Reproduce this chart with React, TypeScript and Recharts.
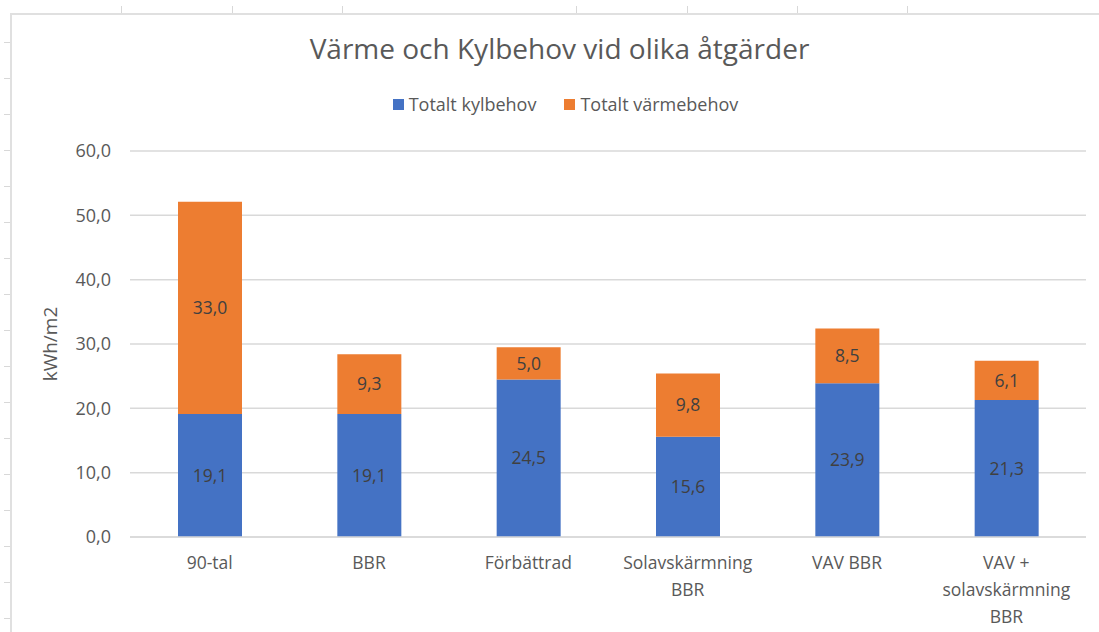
import React from 'react';
import { BarChart, Bar, XAxis, YAxis, CartesianGrid, LabelList } from 'recharts';

const categories = ['90-tal', 'BBR', 'Förbättrad', 'Solavskärmning\nBBR', 'VAV BBR', 'VAV +\nsolavskärmning\nBBR'];
const kylbehov = [19.1, 19.1, 24.5, 15.6, 23.9, 21.3];
const varmebehov = [33.0, 9.3, 5.0, 9.8, 8.5, 6.1];
const yTicks = [0, 10, 20, 30, 40, 50, 60];
const seriesNames = ['Totalt kylbehov', 'Totalt värmebehov'];
const colors = ['#4472C4', '#ED7D31'];

const data = categories.map((c, i) => ({ name: c, kyl: kylbehov[i], varme: varmebehov[i] }));

const FONT = "'Open Sans', 'Noto Sans', sans-serif";
const fmt = (v: any) => Number(v).toFixed(1).replace('.', ',');

const topTicks = [121, 232, 342, 576, 687, 797, 907];
const leftTicks = Array.from({ length: 17 }, (_, k) => 42 + 36 * k);

const CategoryTick = (props: any) => {
  const { x, y, payload } = props;
  const lines = String(payload.value).split('\n');
  return (
    <g transform={`translate(${x},${y})`}>
      <text textAnchor="middle" fill="#595959" fontSize={17.5} fontFamily={FONT}>
        {lines.map((l, i) => (
          <tspan key={i} x={0} y={32 + i * 27}>{l}</tspan>
        ))}
      </text>
    </g>
  );
};

export default function App() {
  return (
    <div style={{ position: 'absolute', left: 0, top: 0, width: 1099, height: 632, background: '#fff', overflow: 'hidden', fontFamily: FONT }}>
      {/* spreadsheet frame */}
      <div style={{ position: 'absolute', left: 10, top: 13, width: 1089, height: 2, background: '#e0e0e0' }} />
      <div style={{ position: 'absolute', left: 10, top: 13, width: 2, height: 619, background: '#e0e0e0' }} />
      {topTicks.map((x) => (
        <div key={x} style={{ position: 'absolute', left: x, top: 6, width: 1, height: 7, background: '#d8d8d8' }} />
      ))}
      {leftTicks.map((y) => (
        <div key={y} style={{ position: 'absolute', left: 4, top: y, width: 6, height: 1, background: '#d8d8d8' }} />
      ))}

      <div style={{ position: 'absolute', left: 10, top: 29, width: 1099, textAlign: 'center', fontSize: 28, color: '#595959', whiteSpace: 'nowrap' }}>
        Värme och Kylbehov vid olika åtgärder
      </div>
      <div style={{ position: 'absolute', left: 16, top: 92, width: 1099, display: 'flex', justifyContent: 'center', gap: 28, fontSize: 18, color: '#595959' }}>
        {seriesNames.map((n, i) => (
          <div key={n} style={{ display: 'flex', alignItems: 'center' }}>
            <span style={{ display: 'inline-block', width: 11, height: 11, background: colors[i], marginRight: 5 }} />
            <span>{n}</span>
          </div>
        ))}
      </div>

      <div style={{ position: 'absolute', left: 0, top: 0 }}>
        <BarChart width={1099} height={632} data={data} margin={{ top: 151, right: 13, bottom: 0, left: 0 }}>
          <CartesianGrid vertical={false} stroke="#d9d9d9" strokeWidth={1.5} />
          <XAxis
            dataKey="name"
            height={95}
            interval={0}
            tickLine={false}
            tickSize={0}
            tickMargin={0}
            axisLine={{ stroke: '#d9d9d9', strokeWidth: 1.5 }}
            tick={<CategoryTick />}
          />
          <YAxis
            width={130}
            domain={[0, 60]}
            ticks={yTicks}
            tickFormatter={fmt}
            axisLine={false}
            tickLine={false}
            tickSize={0}
            tickMargin={19}
            tick={{ fill: '#595959', fontSize: 18, fontFamily: FONT }}
            label={{ value: 'kWh/m2', angle: -90, position: 'insideLeft', offset: 50, style: { fill: '#595959', fontSize: 19, fontFamily: FONT, textAnchor: 'middle' } }}
          />
          <Bar dataKey="kyl" name={seriesNames[0]} stackId="a" fill={colors[0]} barSize={64} isAnimationActive={false}>
            <LabelList dataKey="kyl" position="center" formatter={fmt} fill="#404040" fontSize={17.5} fontFamily={FONT} />
          </Bar>
          <Bar dataKey="varme" name={seriesNames[1]} stackId="a" fill={colors[1]} barSize={64} isAnimationActive={false}>
            <LabelList dataKey="varme" position="center" formatter={fmt} fill="#404040" fontSize={17.5} fontFamily={FONT} />
          </Bar>
        </BarChart>
      </div>
    </div>
  );
}
